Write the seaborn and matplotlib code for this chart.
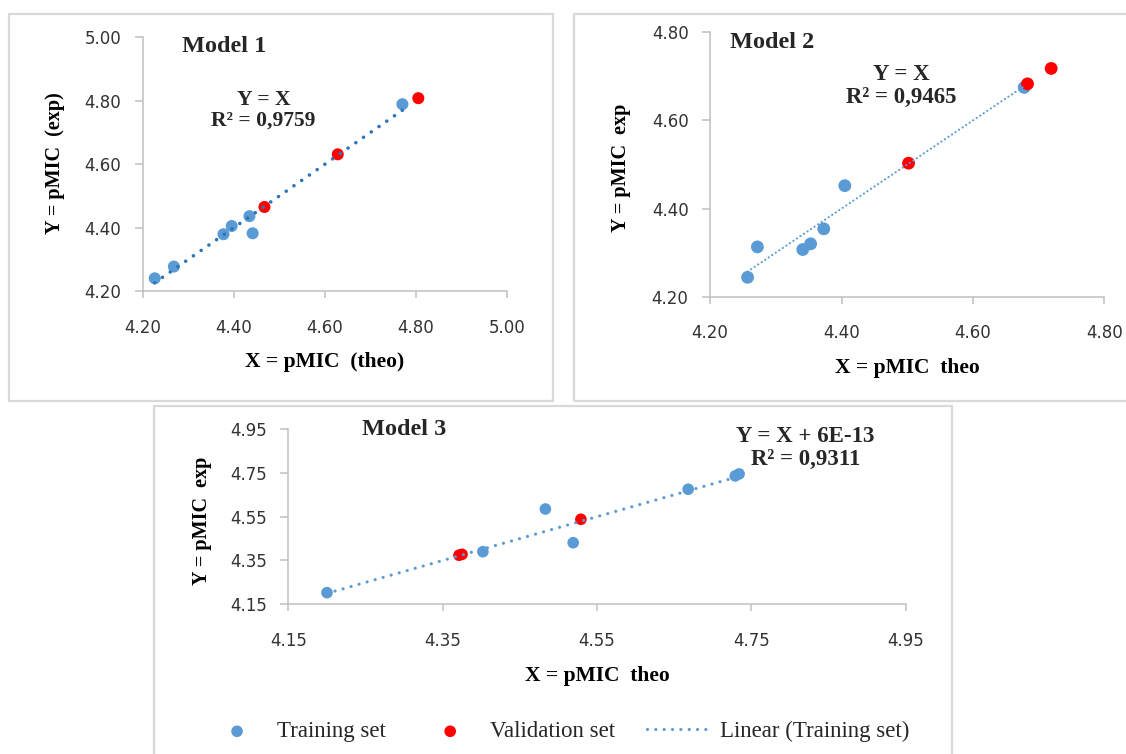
import matplotlib
matplotlib.use('Agg')
import matplotlib.pyplot as plt
import seaborn as sns
from matplotlib.patches import Rectangle

# ---------- data ----------
# Model 1
m1_train_x = [4.226, 4.268, 4.377, 4.395, 4.434, 4.441, 4.770]
m1_train_y = [4.240, 4.277, 4.379, 4.405, 4.436, 4.382, 4.789]
m1_val_x = [4.467, 4.628, 4.805]
m1_val_y = [4.465, 4.631, 4.808]

# Model 2
m2_train_x = [4.257, 4.272, 4.341, 4.353, 4.373, 4.405, 4.678]
m2_train_y = [4.244, 4.313, 4.307, 4.320, 4.354, 4.452, 4.675]
m2_val_x = [4.502, 4.683, 4.719]
m2_val_y = [4.503, 4.683, 4.718]

# Model 3
m3_train_x = [4.200, 4.402, 4.483, 4.519, 4.668, 4.729, 4.734]
m3_train_y = [4.203, 4.390, 4.585, 4.431, 4.675, 4.736, 4.745]
m3_val_x = [4.371, 4.375, 4.529]
m3_val_y = [4.374, 4.378, 4.538]

m1_ticks = [4.20, 4.40, 4.60, 4.80, 5.00]
m2_ticks = [4.20, 4.40, 4.60, 4.80]
m3_ticks = [4.15, 4.35, 4.55, 4.75, 4.95]

sns.set_theme(style='white')
plt.rcParams['font.family'] = ['DejaVu Sans']

W, H = 1126, 754
fig = plt.figure(figsize=(W / 100, H / 100), dpi=100)
fig.patch.set_facecolor('white')

SERIF = 'Liberation Serif'
BLUE = '#5B9BD5'
RED = '#FF0000'


def px_box(l, t, r, b):
    return [l / W, 1 - b / H, (r - l) / W, (b - t) / H]


# light grey frames around each chart
for l, t, r, b in [(8.5, 14, 553, 401), (573.5, 14, 1135, 401), (154, 405.5, 952, 770)]:
    fig.patches.append(Rectangle((l / W, 1 - b / H), (r - l) / W, (b - t) / H,
                                 transform=fig.transFigure, fill=False,
                                 edgecolor='#d9d9d9', linewidth=1.6))


def panel(box, tx, ty, vx, vy, ticks, title, eq, line_color, lw, dash, s,
          title_pos, eq_pos, xlab, ylab, xlab_y, ylab_pos, eq_ls, eq_size):
    ax = fig.add_axes(px_box(*box))
    ax.set_facecolor('none')
    sns.scatterplot(x=tx, y=ty, color=BLUE, s=s, edgecolor='none', ax=ax,
                    label='Training set', zorder=2)
    sns.scatterplot(x=vx, y=vy, color=RED, s=s, edgecolor='none', ax=ax,
                    label='Validation set', zorder=2)
    # linear trend of the training set: Y = X over its x range
    ends = [min(tx), max(tx)]
    sns.lineplot(x=ends, y=ends, color=line_color, linewidth=lw, ax=ax,
                 linestyle=(0, dash), dash_capstyle='round',
                 label='Linear (Training set)', zorder=3)
    ax.set_xlim(ticks[0], ticks[-1])
    ax.set_ylim(ticks[0], ticks[-1])
    ax.set_xticks(ticks)
    ax.set_yticks(ticks)
    ax.set_xticklabels([f'{t:.2f}' for t in ticks])
    ax.set_yticklabels([f'{t:.2f}' for t in ticks])
    for side in ['top', 'right']:
        ax.spines[side].set_visible(False)
    for side in ['left', 'bottom']:
        ax.spines[side].set_color('#c0c0c0')
        ax.spines[side].set_linewidth(1.1)
    ax.tick_params(axis='x', length=5, width=1.1, color='#c0c0c0', pad=15,
                   labelsize=12, labelcolor='#333333', bottom=True)
    ax.tick_params(axis='y', length=5.5, width=1.1, color='#c0c0c0', pad=10,
                   labelsize=12, labelcolor='#333333', left=True)
    ax.set_xlabel(xlab, fontsize=15.5, fontweight='bold', family=SERIF,
                  color='black', va='center')
    ax.set_ylabel(ylab, fontsize=14.5, fontweight='bold', family=SERIF,
                  color='black', va='center')
    ax.xaxis.set_label_coords(0.5, xlab_y)
    ax.yaxis.set_label_coords(*ylab_pos)
    ax.text(title_pos[0], title_pos[1], title, transform=ax.transAxes,
            ha='left', va='center', fontsize=17.5, fontweight='bold', family=SERIF)
    ax.text(eq_pos[0], eq_pos[1], eq, transform=ax.transAxes, ha='center',
            va='center', fontsize=eq_size, fontweight='bold', family=SERIF,
            linespacing=eq_ls)
    leg = ax.get_legend()
    if leg is not None:
        leg.remove()
    return ax


ax1 = panel((142.9, 37.3, 507.1, 291), m1_train_x, m1_train_y, m1_val_x, m1_val_y,
            m1_ticks, 'Model 1', 'Y = X\nR² = 0,9759', '#2E75B6', 2.6, (0.01, 2.6), 75,
            (0.108, 0.962), (0.331, 0.711), 'X = pMIC  (theo)', 'Y = pMIC  (exp)',
            -0.280, (-0.240, 0.505), 1.05, 15.5)

ax2 = panel((710.1, 32.3, 1104.4, 296.7), m2_train_x, m2_train_y, m2_val_x, m2_val_y,
            m2_ticks, 'Model 2', 'Y = X\nR² = 0,9465', BLUE, 1.6, (0.01, 1.9), 85,
            (0.051, 0.962), (0.485, 0.796), 'X = pMIC  theo', 'Y = pMIC  exp',
            -0.271, (-0.225, 0.487), 1.1, 16.5)

ax3 = panel((288.4, 429, 905.8, 604.3), m3_train_x, m3_train_y, m3_val_x, m3_val_y,
            m3_ticks, 'Model 3', 'Y = X + 6E-13\nR² = 0,9311', BLUE, 2.3, (0.01, 2.6), 70,
            (0.119, 0.998), (0.837, 0.894), 'X = pMIC  theo', 'Y = pMIC  exp',
            -0.409, (-0.140, 0.477), 1.12, 16.5)

handles, labels = ax3.get_legend_handles_labels()
fig.legend(handles, labels, loc='center', bbox_to_anchor=(557 / W, 1 - 731.7 / H),
           ncol=3, frameon=False, prop={'family': SERIF, 'size': 16.5},
           handlelength=2.8, handletextpad=0.35, columnspacing=1.4)

fig.savefig('out.png', dpi=100, facecolor='white')
